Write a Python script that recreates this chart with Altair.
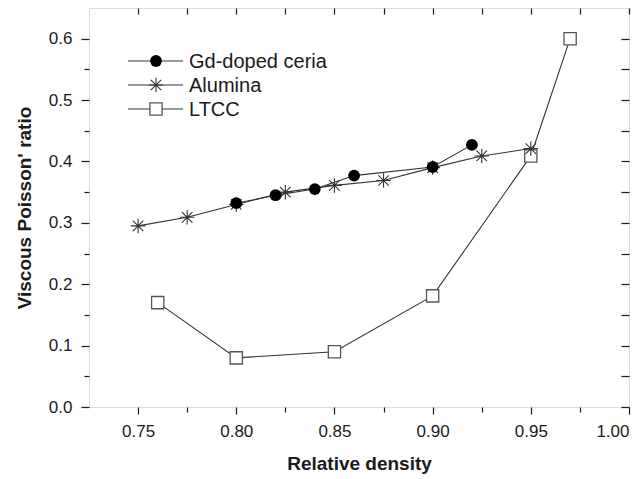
import altair as alt
import pandas as pd

# ---- data ----
gd_density = [0.80, 0.82, 0.84, 0.86, 0.90, 0.92]
gd_ratio = [0.332, 0.345, 0.355, 0.377, 0.391, 0.427]

al_density = [0.75, 0.775, 0.80, 0.825, 0.85, 0.875, 0.90, 0.925, 0.95]
al_ratio = [0.295, 0.309, 0.330, 0.350, 0.361, 0.369, 0.390, 0.409, 0.421]

ltcc_density = [0.76, 0.80, 0.85, 0.90, 0.95, 0.97]
ltcc_ratio = [0.170, 0.080, 0.090, 0.181, 0.409, 0.600]

series_names = ["Gd-doped ceria", "Alumina", "LTCC"]

x_ticks = [0.75, 0.775, 0.80, 0.825, 0.85, 0.875, 0.90, 0.925, 0.95, 0.975, 1.00]
y_ticks = [0.0, 0.05, 0.1, 0.15, 0.2, 0.25, 0.3, 0.35, 0.4, 0.45, 0.5, 0.55, 0.6]

x_domain = [0.725, 1.0]
y_domain = [0.0, 0.65]

FONT = "Liberation Sans"
INK = "#1a1a1a"
LINE = "#333333"

STAR = "M-1,0L1,0M0,-1L0,1M-0.72,-0.72L0.72,0.72M-0.72,0.72L0.72,-0.72"

gd_df = pd.DataFrame({"d": gd_density, "v": gd_ratio})
al_df = pd.DataFrame({"d": al_density, "v": al_ratio})
lt_df = pd.DataFrame({"d": ltcc_density, "v": ltcc_ratio})

xs = alt.Scale(domain=x_domain, nice=False, zero=False)
ys = alt.Scale(domain=y_domain, nice=False, zero=False)

x_major_test = "abs(datum.value*20 - round(datum.value*20)) < 0.001"
y_major_test = "abs(datum.value*10 - round(datum.value*10)) < 0.001"

bottom_axis = alt.Axis(
    values=x_ticks, title="Relative density", domain=False, grid=False,
    tickColor=INK, tickWidth=1.2,
    tickSize={"condition": {"test": x_major_test, "value": 7}, "value": 5},
    labelExpr=f"({x_major_test}) ? format(datum.value, '.2f') : ''",
    labelFont=FONT, labelFontSize=17, labelColor=INK, labelPadding=9,
    titleFont=FONT, titleFontSize=19, titleFontWeight="bold", titleColor=INK,
    titlePadding=15,
)
left_axis = alt.Axis(
    values=y_ticks, title="Viscous Poisson' ratio", domain=False, grid=False,
    tickColor=INK, tickWidth=1.2,
    tickSize={"condition": {"test": y_major_test, "value": 8}, "value": 5},
    labelExpr=f"({y_major_test}) ? format(datum.value, '.1f') : ''",
    labelFont=FONT, labelFontSize=17, labelColor=INK, labelPadding=9,
    titleFont=FONT, titleFontSize=19, titleFontWeight="bold", titleColor=INK,
    titlePadding=14,
)
top_axis = alt.Axis(
    orient="top", values=x_ticks, title=None, labels=False, domain=False,
    grid=False, tickColor=INK, tickWidth=1.2, tickSize=6, offset=-6,
)
right_axis = alt.Axis(
    orient="right", values=y_ticks, title=None, labels=False, domain=False,
    grid=False, tickColor=INK, tickWidth=1.2, tickSize=8, offset=-8,
)


def line_layer(df, xaxis=None, yaxis=None):
    return alt.Chart(df).mark_line(color=LINE, strokeWidth=1.1).encode(
        x=alt.X("d:Q", scale=xs, axis=xaxis),
        y=alt.Y("v:Q", scale=ys, axis=yaxis),
        order="d:Q",
    )


circle_style = dict(shape="circle", size=139, filled=True, color="#000000", opacity=1)
star_style = dict(shape=STAR, size=210, filled=False, stroke="#333333",
                  strokeWidth=1.1, opacity=1)
square_style = dict(shape="square", size=150, filled=True, fill="white",
                    stroke="#555555", strokeWidth=1.3, opacity=1)

lt_line = line_layer(lt_df, bottom_axis, left_axis)
lt_pts = alt.Chart(lt_df).mark_point(**square_style).encode(
    x=alt.X("d:Q", scale=xs, axis=top_axis),
    y=alt.Y("v:Q", scale=ys, axis=right_axis),
)

al_line = line_layer(al_df)
al_pts = alt.Chart(al_df).mark_point(**star_style).encode(
    x=alt.X("d:Q", scale=xs, axis=None),
    y=alt.Y("v:Q", scale=ys, axis=None),
)

gd_line = line_layer(gd_df)
gd_pts = alt.Chart(gd_df).mark_point(**circle_style).encode(
    x=alt.X("d:Q", scale=xs, axis=None),
    y=alt.Y("v:Q", scale=ys, axis=None),
)

# ---- legend (inside the plot, top left) ----
legend_rows = [53, 77, 101]
legend_df = pd.DataFrame({"name": series_names})
legend_layers = []
marker_styles = [circle_style, star_style, square_style]
for i, name in enumerate(series_names):
    row = legend_df[legend_df["name"] == name]
    ly = legend_rows[i]
    legend_layers.append(
        alt.Chart(row).mark_rule(color=LINE, strokeWidth=1.1).encode(
            x=alt.value(39), x2=alt.value(94), y=alt.value(ly)
        )
    )
    legend_layers.append(
        alt.Chart(row).mark_point(**marker_styles[i]).encode(
            x=alt.value(67), y=alt.value(ly)
        )
    )
    legend_layers.append(
        alt.Chart(row).mark_text(
            align="left", baseline="middle", font=FONT, fontSize=20, color=INK
        ).encode(x=alt.value(100), y=alt.value(ly + 1), text="name:N")
    )

chart = alt.layer(
    lt_line, lt_pts, al_line, al_pts, gd_line, gd_pts, *legend_layers
).resolve_axis(x="independent", y="independent").properties(
    width=540, height=399,
    padding={"left": 81, "top": 0, "right": 7, "bottom": 72},
    autosize=alt.AutoSizeParams(type="none"),
).configure_view(stroke=INK, strokeWidth=1.3).configure(background="white")

chart.save("out.html", embed_options={"renderer": "svg", "actions": False})
